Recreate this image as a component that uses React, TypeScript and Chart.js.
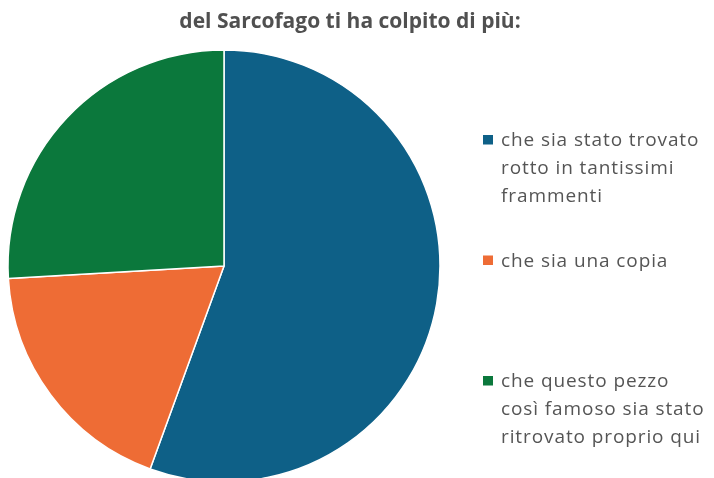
import React, { useEffect, useRef } from "react";
import { Chart, registerables } from "chart.js";

Chart.register(...registerables);

const titleText = "del Sarcofago ti ha colpito di più:";
const categories: string[][] = [
  ["che sia stato trovato", "rotto in tantissimi", "frammenti"],
  ["che sia una copia"],
  ["che questo pezzo", "così famoso sia stato", "ritrovato proprio qui"],
];
const values = [15, 5, 7];
const colors = ["#0E6087", "#EE6C35", "#0B783C"];

const TEXT_COLOR = "#555555";
const FONT = "'Open Sans', 'Noto Sans', sans-serif";

const titlePlugin = {
  id: "pageTitle",
  afterDraw(chart: any) {
    const ctx = chart.ctx;
    ctx.save();
    ctx.font = `bold 21px ${FONT}`;
    ctx.fillStyle = "#505050";
    ctx.textAlign = "center";
    ctx.textBaseline = "alphabetic";
    ctx.fillText(titleText, 350, 28);
    ctx.restore();
  },
};

const legendPlugin = {
  id: "sideLegend",
  afterDraw(chart: any) {
    const ctx = chart.ctx;
    const meta = chart.getDatasetMeta(0);
    const labels = chart.data.labels as string[][];
    const x = 483;
    const y0 = 146;
    const step = 120.5;
    const lh = 28;
    ctx.save();
    ctx.font = `19px ${FONT}`;
    try {
      (ctx as any).letterSpacing = "0.9px";
    } catch (e) {}
    ctx.textBaseline = "alphabetic";
    ctx.textAlign = "left";
    labels.forEach((lines, i) => {
      const y = y0 + i * step;
      const el = meta.data[i];
      ctx.fillStyle = el.options.backgroundColor;
      ctx.fillRect(x, y - 11, 10, 9.5);
      ctx.fillStyle = TEXT_COLOR;
      lines.forEach((line, j) => {
        ctx.fillText(line, x + 18, y + j * lh);
      });
    });
    ctx.restore();
  },
};

export default function App() {
  const ref = useRef<HTMLCanvasElement | null>(null);
  useEffect(() => {
    if (!ref.current) return;
    const chart = new Chart(ref.current, {
      type: "pie",
      data: {
        labels: categories,
        datasets: [
          {
            data: values,
            backgroundColor: colors,
            borderColor: "#ffffff",
            borderWidth: 1.5,
            hoverOffset: 0,
            hoverBorderWidth: 1.5,
            radius: 216,
          },
        ],
      },
      options: {
        responsive: false,
        animation: false,
        layout: { padding: { left: 7, right: 273, top: 54, bottom: 0 } },
        plugins: {
          legend: { display: false },
          title: { display: false },
          tooltip: { enabled: false },
        },
      },
      plugins: [titlePlugin, legendPlugin],
    });
    return () => chart.destroy();
  }, []);
  return (
    <div style={{ position: "absolute", left: 0, top: 0, width: 714, height: 478, background: "#fff" }}>
      <canvas ref={ref} width={714} height={478} style={{ display: "block" }} />
    </div>
  );
}
